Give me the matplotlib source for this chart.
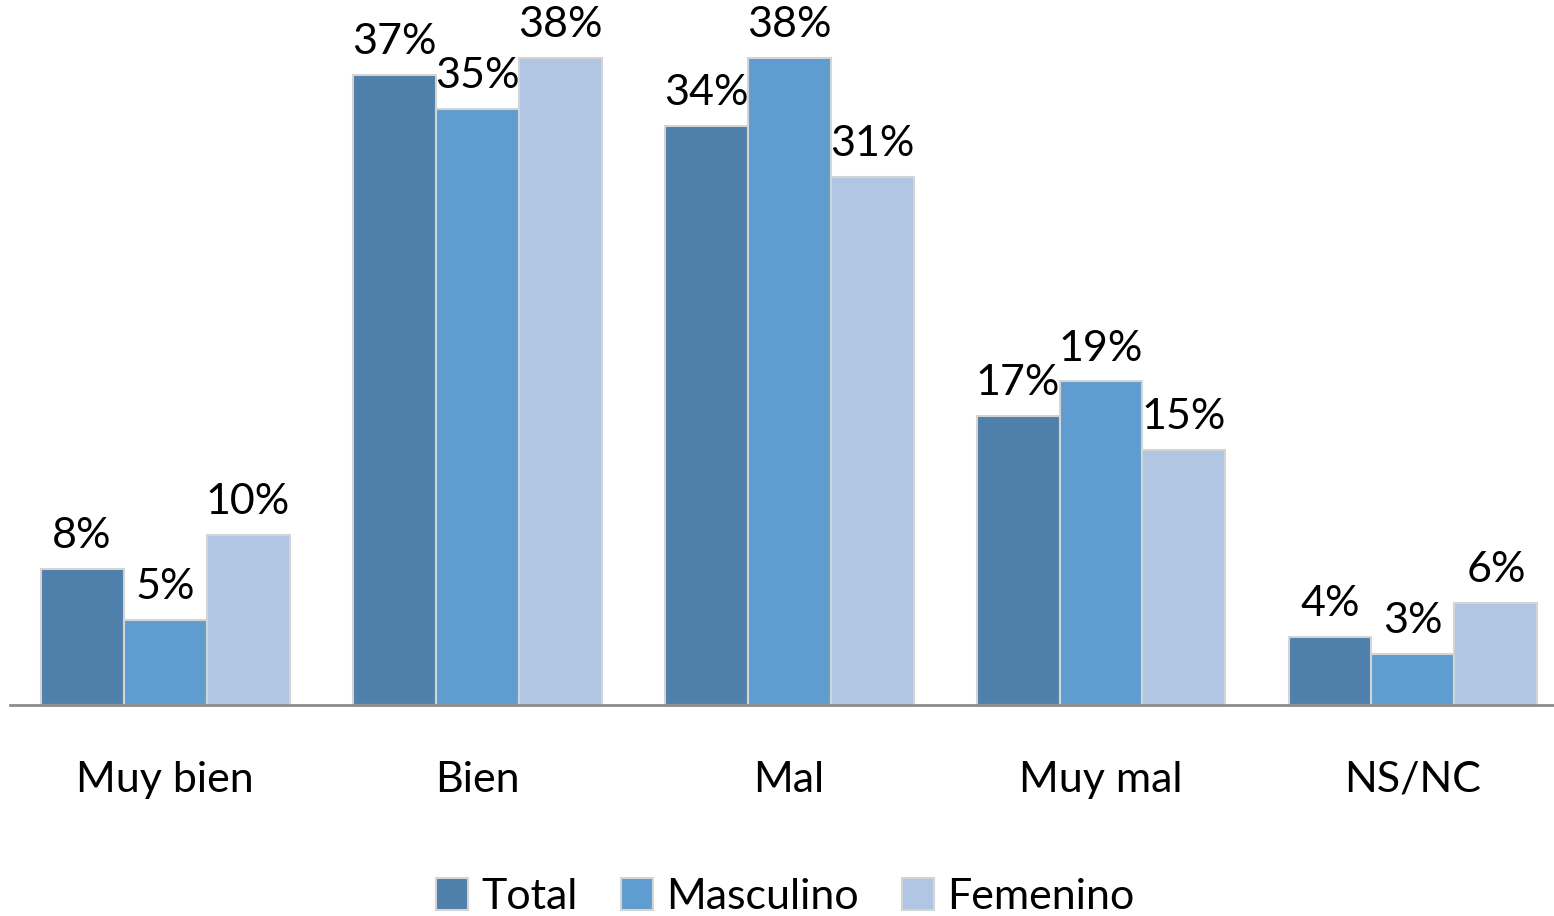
import matplotlib
matplotlib.use('agg')
from matplotlib import pyplot as plt
import numpy as np

categories = ['Muy bien', 'Bien', 'Mal', 'Muy mal', 'NS/NC']
series_names = ['Total', 'Masculino', 'Femenino']
total = [8, 37, 34, 17, 4]
masculino = [5, 35, 38, 19, 3]
femenino = [10, 38, 31, 15, 6]
colors = ['#4F80AB', '#5F9DD1', '#B0C6E3']

plt.rcParams['font.family'] = ['Lato', 'DejaVu Sans']

fig = plt.figure(figsize=(15.54, 9.16), dpi=100)
ax = fig.add_axes([10 / 1554, 1 - 705 / 916, 1 - 10 / 1554, 705 / 916])

x = np.arange(len(categories))
width = 0.266
for i, (name, vals) in enumerate(zip(series_names, [total, masculino, femenino])):
    bars = ax.bar(x + (i - 1) * width, vals, width, color=colors[i],
                  edgecolor='#D4D4D4', linewidth=1.5, label=name, zorder=2)
    for b, v in zip(bars, vals):
        ax.annotate(f'{v}%', (b.get_x() + b.get_width() / 2, b.get_height()),
                    xytext=(0, 15), textcoords='offset points',
                    ha='center', va='baseline', fontsize=31, color='black')

ax.set_xlim(-0.497, 4.452)
ax.set_ylim(0, 41.4)
ax.set_yticks([])
ax.set_xticks(x)
ax.set_xticklabels(categories, fontsize=31)
ax.tick_params(axis='x', length=0, pad=40)

for s in ['top', 'right', 'left']:
    ax.spines[s].set_visible(False)
ax.spines['bottom'].set_color('#8C8C8C')
ax.spines['bottom'].set_linewidth(2)
ax.spines['bottom'].set_zorder(3)

fig.legend(loc='center', bbox_to_anchor=(785 / 1554, 1 - 897 / 916), ncol=3,
           frameon=False, fontsize=31, handlelength=0.75, handleheight=0.75,
           handletextpad=0.3, columnspacing=1.0)

fig.savefig('out.png', dpi=100, facecolor='white')
